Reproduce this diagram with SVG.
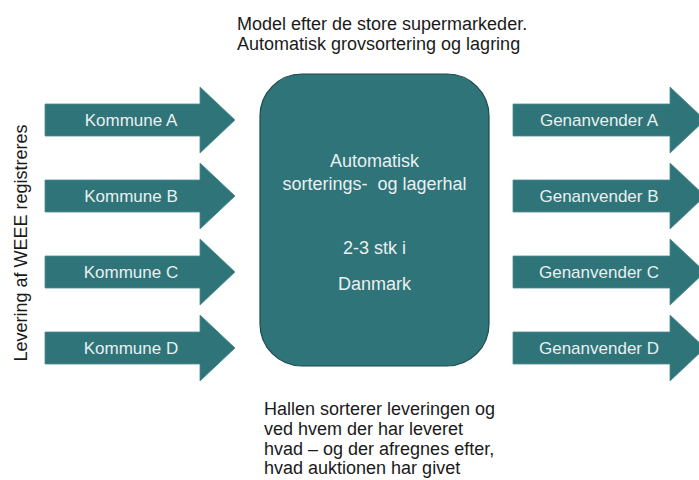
<svg xmlns="http://www.w3.org/2000/svg" width="699" height="480" viewBox="0 0 699 480">
<style>
.arw{fill:#2F7479;stroke:#4a8a8f;stroke-width:0.8}
.box{fill:#2F7479;stroke:#1d4a4e;stroke-width:1.2}
.lt{font-family:"Liberation Sans",Arial,sans-serif;font-size:17px;fill:#E8F0F0;text-anchor:middle}
.bt{font-family:"Liberation Sans",Arial,sans-serif;font-size:18px;fill:#E8F0F0;text-anchor:middle}
.dt{font-family:"Liberation Sans",Arial,sans-serif;font-size:18px;fill:#1a1a1a}
</style>
<defs>
<path id="la" d="M45,-16 H200 V-33 L235,0 L200,33 V16 H45 Z"/>
<path id="ra" d="M513,-16 H670 V-33 L705,0 L670,33 V16 H513 Z"/>
</defs>
<rect width="699" height="480" fill="#ffffff"/>
<g id="connectors">
<g id="kommune-a"><use href="#la" class="arw" y="120"/><text class="lt" x="131" y="126">Kommune A</text></g>
<g id="kommune-b"><use href="#la" class="arw" y="196"/><text class="lt" x="131" y="202">Kommune B</text></g>
<g id="kommune-c"><use href="#la" class="arw" y="272"/><text class="lt" x="131" y="278">Kommune C</text></g>
<g id="kommune-d"><use href="#la" class="arw" y="348"/><text class="lt" x="131" y="354">Kommune D</text></g>
<g id="genanvender-a"><use href="#ra" class="arw" y="120"/><text class="lt" x="599" y="126">Genanvender A</text></g>
<g id="genanvender-b"><use href="#ra" class="arw" y="196"/><text class="lt" x="599" y="202">Genanvender B</text></g>
<g id="genanvender-c"><use href="#ra" class="arw" y="272"/><text class="lt" x="599" y="278">Genanvender C</text></g>
<g id="genanvender-d"><use href="#ra" class="arw" y="348"/><text class="lt" x="599" y="354">Genanvender D</text></g>
</g>
<g id="hal">
<rect class="box" x="260" y="74" width="229" height="292" rx="42" ry="42"/>
<text class="bt" x="374.5" y="167">Automatisk</text>
<text class="bt" x="374.5" y="190" xml:space="preserve">sorterings-  og lagerhal</text>
<text class="bt" x="374.5" y="254">2-3 stk i</text>
<text class="bt" x="374.5" y="290">Danmark</text>
</g>
<g id="top-note">
<text class="dt" x="237" y="30">Model efter de store supermarkeder.</text>
<text class="dt" x="237" y="50">Automatisk grovsortering  og lagring</text>
</g>
<g id="bottom-note">
<text class="dt" x="264" y="415">Hallen sorterer leveringen og</text>
<text class="dt" x="264" y="435">ved hvem  der har leveret</text>
<text class="dt" x="264" y="455">hvad – og der afregnes efter,</text>
<text class="dt" x="264" y="474">hvad auktionen har givet</text>
</g>
<g id="side-label">
<text class="dt" text-anchor="middle" transform="translate(27,243) rotate(-90)">Levering af WEEE registreres</text>
</g>
</svg>
